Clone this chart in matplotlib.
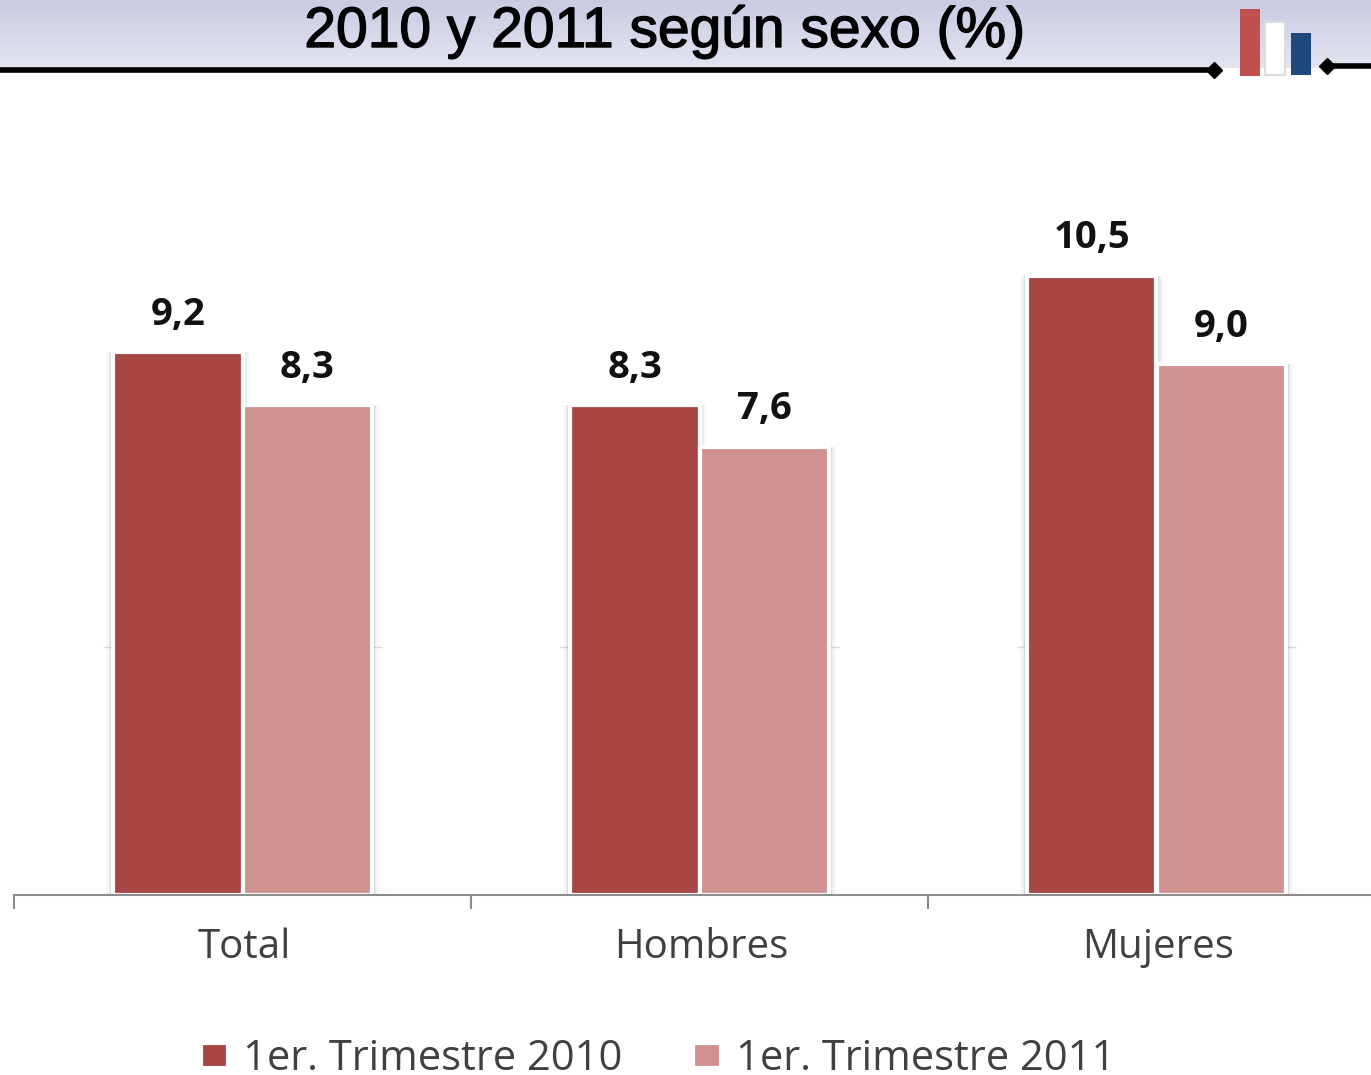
import numpy as np
import matplotlib
matplotlib.use("Agg")
import matplotlib.pyplot as plt
import matplotlib.patheffects as pe
from matplotlib.colors import LinearSegmentedColormap
from matplotlib.patches import Rectangle

W, H = 1371, 1075

categories = ["Total", "Hombres", "Mujeres"]
values_2010 = [9.2, 8.3, 10.5]
values_2011 = [8.3, 7.6, 9.0]
labels_2010 = ["9,2", "8,3", "10,5"]
labels_2011 = ["8,3", "7,6", "9,0"]
series_names = ["1er. Trimestre 2010", "1er. Trimestre 2011"]
title = "2010 y 2011 según sexo (%)"
grid_value = 4.2

COLOR_2010 = "#a84644"
COLOR_2011 = "#d09291"
PX_PER_UNIT = 59

plt.rcParams["font.family"] = ["Open Sans", "DejaVu Sans"]
fig = plt.figure(figsize=(W / 100, H / 100), dpi=100)

# full-figure overlay in pixel coords, for the banner
bg = fig.add_axes([0, 0, 1, 1])
bg.axis("off")
grad = np.linspace(0, 1, 68).reshape(-1, 1)
cmap = LinearSegmentedColormap.from_list("banner", ["#c9cbe2", "#e3e4f1"])
bg.imshow(grad, extent=(0, W, 68, 0), aspect="auto", cmap=cmap)
bg.set_xlim(0, W)
bg.set_ylim(H, 0)
bg.plot([0, 1214], [70, 70], color="black", lw=4, solid_capstyle="butt")
bg.plot([1327, 1371], [66, 66], color="black", lw=4, solid_capstyle="butt")
bg.plot([1214, 1327], [70, 66], ls="", marker="D", color="black", ms=8)
bg.add_patch(Rectangle((1240, 9), 20, 67, color="#c0504d", lw=0))
bg.add_patch(Rectangle((1265, 22), 20, 53, fc="white", ec="#dcdcdc", lw=1.5))
bg.add_patch(Rectangle((1291, 33), 20, 42, color="#1f497d", lw=0))
bg.text(665, 47, title, ha="center", va="baseline", fontsize=41, color="black",
        family=["Liberation Sans"], zorder=5,
        path_effects=[pe.withStroke(linewidth=1.0, foreground="black")])

# axis baseline at y=895, group edges at x=14, 471, 928, 1385
ax = fig.add_axes([14 / W, (H - 895) / H, (1385 - 14) / W, (895 - 175) / H])
ax.patch.set_alpha(0)
x = np.arange(len(categories))
bw = 0.283
# leftover gridline, only its ends show beside the bars
for xc in x:
    ax.hlines(grid_value, xc - bw - 0.022, xc + bw + 0.022, color="#dddddd", lw=1, zorder=0)
for grow, alpha in [(0.03, 0.03), (0.02, 0.05), (0.012, 0.07)]:
    ax.bar(x - bw / 2, values_2010, bw + grow, color="black", alpha=alpha, lw=0, zorder=1)
    ax.bar(x + bw / 2, values_2011, bw + grow, color="black", alpha=alpha, lw=0, zorder=1)
bars1 = ax.bar(x - bw / 2, values_2010, bw, color=COLOR_2010, edgecolor="white", lw=3,
               label=series_names[0], zorder=2)
bars2 = ax.bar(x + bw / 2, values_2011, bw, color=COLOR_2011, edgecolor="white", lw=3,
               label=series_names[1], zorder=2)
ax.set_xlim(-0.5, 2.5)
ax.set_ylim(0, (895 - 175) / PX_PER_UNIT)

for b, txt in zip(list(bars1) + list(bars2), labels_2010 + labels_2011):
    ax.text(b.get_x() + b.get_width() / 2, b.get_height() + 0.31, txt, ha="center", va="bottom",
            fontsize=27.5, fontweight="bold", color="#111111", zorder=3)

for s in ["top", "right", "left"]:
    ax.spines[s].set_visible(False)
ax.spines["bottom"].set_color("#8c8c8c")
ax.spines["bottom"].set_linewidth(1.5)
ax.set_yticks([])
ax.set_xticks([-0.5, 0.5, 1.5, 2.5])
ax.set_xticklabels([])
ax.tick_params(axis="x", length=10, width=1.5, color="#8c8c8c", direction="out")
for i, c in enumerate(categories):
    ax.text(i + 0.004, -0.9, c, ha="center", va="center", fontsize=29, color="#404040")

fig.legend(handles=[bars1, bars2], labels=series_names, loc="center",
           bbox_to_anchor=(658 / W, (H - 1059) / H), ncol=2, frameon=False, fontsize=30,
           labelcolor="#404040", handlelength=0.65, handleheight=0.55,
           columnspacing=1.7, handletextpad=0.36, borderpad=0, borderaxespad=0)

fig.savefig("out.png", dpi=100)
